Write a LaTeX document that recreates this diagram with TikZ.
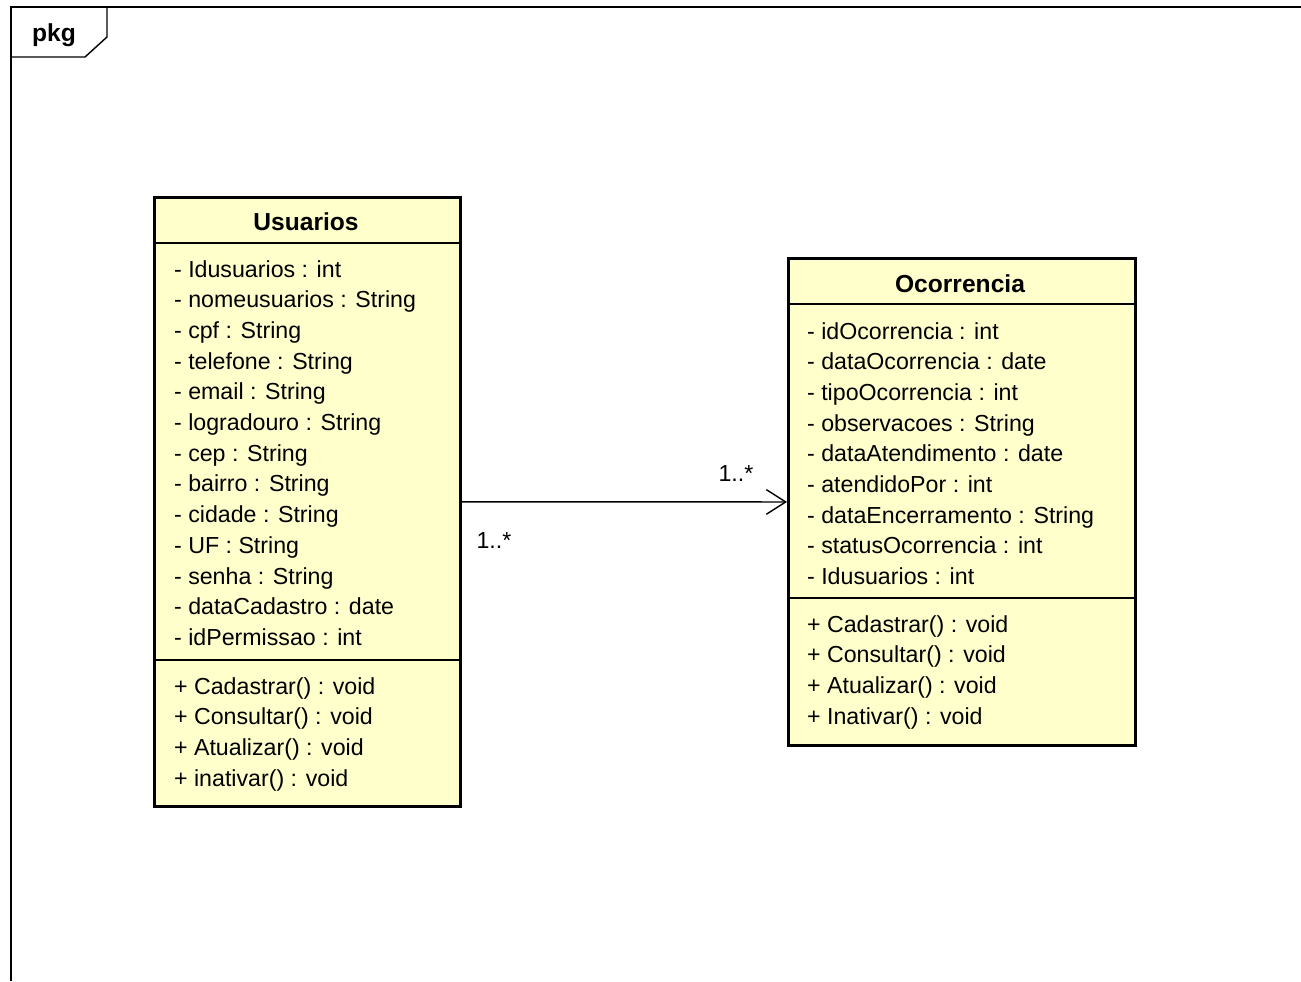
\documentclass[tikz,border=0pt]{standalone}
\usepackage{fontspec}
\setmainfont{Liberation Sans}
\usepackage{tikz}
\usetikzlibrary{arrows.meta}
\definecolor{classfill}{RGB}{255,255,204}

\tikzset{
  classbox/.style={draw,rectangle,line width=1.7pt,fill=classfill,inner sep=0pt,anchor=north west},
  member/.style={anchor=west,inner sep=1pt,text height=1.6ex,text depth=0.45ex,font=\fontsize{13.2}{15}\selectfont},
  title/.style={font=\fontsize{14}{16}\selectfont\bfseries}
}

\begin{document}
\begin{tikzpicture}[x=0.02cm,y=-0.02cm]
\useasboundingbox (0,0) rectangle (1301,981);
% package frame
\draw [line width=0.8pt] (11,981) -- (11,7) -- (1301,7);
\draw [line width=0.8pt] (11,57) -- (85,57) -- (107,37) -- (107,7);
\node (pkg) [title] at (54,35) {pkg};

% classes
\node (U) [classbox,minimum width=6.12cm,minimum height=12.18cm] at (153,196) {};
\node (O) [classbox,minimum width=6.94cm,minimum height=9.74cm] at (787,257) {};
\node (Utitle) [title] at (306,222) {Usuarios};
\node (Otitle) [title] at (960,284) {Ocorrencia};
\draw [line width=0.9pt] (U.west |- 0,243) -- (U.east |- 0,243);
\draw [line width=0.9pt] (U.west |- 0,660) -- (U.east |- 0,660);
\draw [line width=0.9pt] (O.west |- 0,304) -- (O.east |- 0,304);
\draw [line width=0.9pt] (O.west |- 0,598) -- (O.east |- 0,598);

\foreach \txt [count=\i] in {- Idusuarios : int,- nomeusuarios : String,- cpf : String,
  - telefone : String,- email : String,- logradouro : String,- cep : String,
  - bairro : String,- cidade : String,- UF : String,- senha : String,
  - dataCadastro : date,- idPermissao : int}
  \node (ua\i) [member] at (172,241+30.7*\i) {\txt};
\foreach \txt [count=\i] in {+ Cadastrar() : void,+ Consultar() : void,
  + Atualizar() : void,+ inativar() : void}
  \node (um\i) [member] at (172,658+30.7*\i) {\txt};

\foreach \txt [count=\i] in {- idOcorrencia : int,- dataOcorrencia : date,
  - tipoOcorrencia : int,- observacoes : String,- dataAtendimento : date,
  - atendidoPor : int,- dataEncerramento : String,- statusOcorrencia : int,
  - Idusuarios : int}
  \node (oa\i) [member] at (805,303+30.7*\i) {\txt};
\foreach \txt [count=\i] in {+ Cadastrar() : void,+ Consultar() : void,
  + Atualizar() : void,+ Inativar() : void}
  \node (om\i) [member] at (805,596+30.7*\i) {\txt};

% association
\draw [line width=0.8pt,-{Straight Barb[length=11pt,width=14pt,line width=0.8pt]}] (U) -- (O);
\node (mU) [member,anchor=center] at (494,543) {1..*};
\node (mO) [member,anchor=center] at (736,476) {1..*};
\end{tikzpicture}
\end{document}
